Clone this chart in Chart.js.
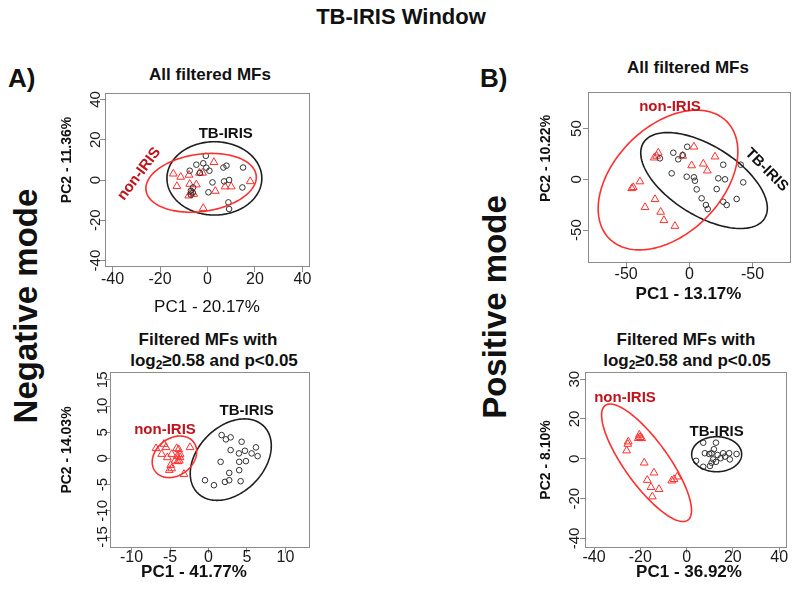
<!DOCTYPE html>
<html><head><meta charset="utf-8">
<script src="https://cdn.jsdelivr.net/npm/chart.js@4.4.1/dist/chart.umd.min.js"></script>
<style>
html,body{margin:0;padding:0;background:#fff;}
body{width:800px;height:594px;position:relative;overflow:hidden;font-family:'Liberation Sans',Arial,sans-serif;color:#111;}
.t{position:absolute;white-space:nowrap;font-weight:bold;line-height:1;}
.c{text-align:center;width:400px;}
.r{transform:translate(-50%,-50%) rotate(-90deg);}
canvas{position:absolute;}
sub{font-size:70%;vertical-align:-0.25em;line-height:0;}
</style></head><body>
<div class="t c" style="left:201px;top:6px;font-size:22px;">TB-IRIS Window</div>
<div class="t" style="left:8px;top:65px;font-size:26px;">A)</div>
<div class="t" style="left:480px;top:65px;font-size:26px;">B)</div>
<div class="t r" style="left:25px;top:306px;font-size:33px;">Negative mode</div>
<div class="t r" style="left:494px;top:307px;font-size:33px;">Positive mode</div>
<div class="t c" style="left:10px;top:66px;font-size:17px;">All filtered MFs</div>
<div class="t c" style="left:488px;top:59px;font-size:17px;">All filtered MFs</div>
<div class="t c" style="left:8px;top:331px;font-size:17px;">Filtered MFs with</div>
<div class="t c" style="left:14px;top:352px;font-size:17px;">log<sub>2</sub>≥0.58 and p&lt;0.05</div>
<div class="t c" style="left:486px;top:331px;font-size:17px;">Filtered MFs with</div>
<div class="t c" style="left:487px;top:352px;font-size:17px;">log<sub>2</sub>≥0.58 and p&lt;0.05</div>

<canvas id="negAll" width="290" height="236" style="left:40px;top:84px;"></canvas>
<canvas id="posAll" width="280" height="240" style="left:520px;top:80px;"></canvas>
<canvas id="negSig" width="290" height="232" style="left:40px;top:362px;"></canvas>
<canvas id="posSig" width="280" height="232" style="left:520px;top:362px;"></canvas>

<script>
// ================= DATA =================
// Negative mode, all filtered MFs (PC1 vs PC2)
const negAllTbX  = [-0.7,-4.7,-1.8,-0.5,0.8,-7.5,6.7,8.0,15.0,2.1,7.0,9.1,14.7,0.4,-6.1,-7.0,-6.2,-7.0,8.8,9.1,-3.2];
const negAllTbY  = [12.0,7.6,8.3,6.1,4.6,4.6,6.2,7.1,6.2,-1.2,-0.7,0.0,-3.7,-6.1,-3.7,-5.3,-6.3,-7.3,-11.1,-14.4,3.5];
const negAllNonX = [-14.4,-11.3,-7.8,-3.4,-2.1,2.7,-12.9,-7.5,-4.7,-7.0,-5.8,-7.9,-1.8,3.3,7.4,10.0,18.0];
const negAllNonY = [3.1,1.5,2.5,3.5,3.5,8.8,-3.1,-2.0,-2.3,-6.1,-7.0,-7.8,-14.0,-5.5,-3.3,-3.3,-0.7];
const negAllXTicks = [-40,-20,0,20,40];
const negAllXLabels = ['-40','-20','0','20','40'];
const negAllYTicks = [-40,-20,0,20,40];
const negAllYLabels = ['-40','-20','0','20','40'];
// ellipse: centre x, centre y, semi-axis 1 (dx, dy), semi-axis 2 (dx, dy)
const negAllTbEllipse  = [2.9,0.8, 20.0,0, 0,18.2];
const negAllNonEllipse = [-2.7,-1.4, 23.2,3.8, 1.7,-14.1];

// Positive mode, all filtered MFs
const posAllTbX  = [-1.7,-12.7,-5.3,-8.8,-23.3,-14.0,-2.1,3.6,4.4,26.8,40.6,22.9,28.2,42.6,5.8,21.6,37.4,9.7,13.1,14.5,26.8,29.5];
const posAllTbY  = [32.1,26.2,24.0,19.7,20.7,5.9,2.6,2.0,-1.4,14.4,14.4,1.0,0.0,-3.0,-9.9,-9.6,-19.4,-18.7,-25.3,-29.3,-22.1,-25.3];
const posAllNonX = [-24.6,-25.9,-27.8,-5.3,3.6,20.3,1.8,11.0,14.2,-39.1,-44.4,-45.6,-27.2,-35.1,-22.7,-20.1,-11.4];
const posAllNonY = [26.2,23.0,21.3,23.0,32.1,22.3,13.6,15.3,8.5,-2.2,-7.9,-8.9,-19.7,-27.6,-32.2,-40.4,-46.1];
const posAllXTicks = [-50,0,50];
const posAllXLabels = ['-50','0','-50'];
const posAllYTicks = [-50,0,50];
const posAllYLabels = ['-50','0','50'];
const posAllTbEllipse  = [11.6,-1.2, 47.9,-37.3, -14.6,-29.1];
const posAllNonEllipse = [-16.9,-0.7, 46.4,57.8, 30.0,-37.5];

// Negative mode, filtered MFs with log2>=0.58 and p<0.05
const negSigTbX  = [1.71,2.27,2.88,4.31,2.88,3.96,4.74,6.17,5.61,6.39,1.58,4.0,4.87,4.0,2.70,-0.45,0.71,2.14,2.70,4.18];
const negSigTbY  = [4.46,3.64,4.02,3.18,1.59,0.96,1.46,2.11,0.96,0.44,-0.65,-0.65,-0.52,-2.24,-2.76,-4.16,-5.11,-4.48,-4.16,-4.35];
const negSigNonX = [-6.82,-5.78,-5.52,-5.35,-6.08,-4.78,-4.13,-3.87,-3.70,-4.05,-3.70,-4.35,-4.0,-3.79,-4.91,-4.78,-5.09,-3.18,-2.40];
const negSigNonY = [1.92,2.74,2.11,0.19,0.82,0.82,1.92,1.72,0.82,0.44,0.19,-0.46,-0.57,-0.46,-1.28,-1.92,-2.24,-3.01,2.11];
const negSigXTicks = [-10,-5,0,5,10];
const negSigXLabels = ['-10','-5','0','5','10'];
const negSigYTicks = [-15,-10,-5,0,5,10,15];
const negSigYLabels = ['-15','-10','-5','0','5','10','15'];
const negSigTbEllipse  = [2.90,-0.23, 4.31,6.36, 3.03,-4.47];
const negSigNonEllipse = [-4.42,0.31, 2.50,2.78, 1.45,-2.83];

// Positive mode, filtered MFs with log2>=0.58 and p<0.05
const posSigTbX  = [7.2,12.7,11.8,7.9,9.8,10.8,13.4,15.8,18.4,21.6,11.5,12.7,14.7,10.8,18.7,10.1,7.2,4.1,16.6];
const posSigTbY  = [8.1,8.1,4.8,2.8,2.4,2.8,1.9,2.8,2.8,2.4,-0.3,-1.5,0.3,-2.0,-0.3,-3.6,-4.0,-1.0,1.1];
const posSigNonX = [-20.4,-20.1,-20.9,-19.4,-25.2,-25.4,-25.9,-18.3,-14.1,-17.0,-15.4,-11.9,-14.8,-6.4,-5.4,-4.0];
const posSigNonY = [12.0,10.8,10.3,10.3,8.6,7.4,4.1,-2.0,-7.0,-10.7,-14.3,-15.3,-19.0,-11.0,-10.3,-9.0];
const posSigXTicks = [-40,-20,0,20,40];
const posSigXLabels = ['-40','-20','0','20','40'];
const posSigYTicks = [-40,-20,0,20,40];
const posSigYLabels = ['-40','-20','0','20','30'];
const posSigTbEllipse  = [13.0,2.3, 10.8,0, 0,8.8];
const posSigNonEllipse = [-17.3,-2.0, 17.85,-28.8, -7.67,-6.44];

// ================= RENDERING =================
const FONT = "'Liberation Sans', Arial, sans-serif";
const TICK_LEN = 5;
const AXIS_GRAY = '#8c8c8c';
const TB_COLOR = '#333333';
const NON_COLOR = '#ff2f2f';
const NON_TEXT = '#c0141c';

function zip(xs, ys) { return xs.map((v, i) => ({x: v, y: ys[i]})); }
function textWidth(labels, size) {
  const c = document.createElement('canvas').getContext('2d');
  c.font = 'normal ' + size + 'px ' + FONT;
  return Math.max(...labels.map(l => c.measureText(l).width));
}

const boxPlugin = {
  id: 'rbox',
  afterDraw(chart) {
    const {ctx, chartArea: a} = chart;
    ctx.save();
    ctx.strokeStyle = AXIS_GRAY; ctx.lineWidth = 1;
    ctx.strokeRect(Math.round(a.left) + 0.5, Math.round(a.top) + 0.5,
                   Math.round(a.right - a.left) - 1, Math.round(a.bottom - a.top) - 1);
    ctx.restore();
  }
};

// axis titles placed relative to the plot area (R-style outer margins)
const axisTitlePlugin = {
  id: 'axisTitles',
  afterDraw(chart, args, o) {
    const {ctx, chartArea: a} = chart;
    ctx.save();
    ctx.fillStyle = '#111'; ctx.textAlign = 'center'; ctx.textBaseline = 'middle';
    ctx.font = (o.xWeight || 'bold') + ' 17px ' + FONT;
    ctx.fillText(o.x, (a.left + a.right) / 2 + o.xdx, a.bottom + o.xdy);
    ctx.translate(a.left - o.ydx, (a.top + a.bottom) / 2 + o.ydy);
    ctx.rotate(-Math.PI / 2);
    ctx.font = 'bold 14px ' + FONT;
    ctx.fillText(o.y, 0, 0);
    ctx.restore();
  }
};

const ellipsePlugin = {
  id: 'ellipses',
  afterDatasetsDraw(chart, args, opts) {
    const {ctx, chartArea: a} = chart;
    const xs = chart.scales.x, ys = chart.scales.y;
    ctx.save();
    ctx.beginPath(); ctx.rect(a.left, a.top, a.right - a.left, a.bottom - a.top); ctx.clip();
    (opts.items || []).forEach(e => {
      const [cx, cy, ux, uy, vx, vy] = e.p;
      ctx.beginPath();
      for (let i = 0; i <= 200; i++) {
        const t = i / 200 * 2 * Math.PI;
        const px = xs.getPixelForValue(cx + Math.cos(t) * ux + Math.sin(t) * vx);
        const py = ys.getPixelForValue(cy + Math.cos(t) * uy + Math.sin(t) * vy);
        if (i === 0) ctx.moveTo(px, py); else ctx.lineTo(px, py);
      }
      ctx.closePath();
      ctx.strokeStyle = e.color; ctx.lineWidth = 1.6; ctx.stroke();
    });
    ctx.restore();
  }
};

const groupLabelPlugin = {
  id: 'groupLabels',
  afterDatasetsDraw(chart, args, opts) {
    const {ctx} = chart;
    const xs = chart.scales.x, ys = chart.scales.y;
    (opts.items || []).forEach(l => {
      ctx.save();
      ctx.translate(xs.getPixelForValue(l.x), ys.getPixelForValue(l.y));
      ctx.rotate((l.rot || 0) * Math.PI / 180);
      ctx.font = 'bold 15px ' + FONT;
      ctx.fillStyle = l.color; ctx.textAlign = 'center'; ctx.textBaseline = 'middle';
      ctx.fillText(l.text, 0, 0);
      ctx.restore();
    });
  }
};

function makeChart(id, c) {
  const yTickSize = 15, xTickSize = 16;
  const widest = textWidth(c.yLabels, yTickSize);
  new Chart(document.getElementById(id), {
    type: 'scatter',
    data: {
      datasets: [
        {label: 'TB-IRIS', data: zip(c.tbX, c.tbY), pointStyle: 'circle', pointRadius: 2.8,
         borderColor: TB_COLOR, backgroundColor: 'rgba(0,0,0,0)', borderWidth: 1},
        {label: 'non-IRIS', data: zip(c.nonX, c.nonY), pointStyle: 'triangle', pointRadius: 4.5,
         borderColor: NON_COLOR, backgroundColor: 'rgba(0,0,0,0)', borderWidth: 1}
      ]
    },
    options: {
      responsive: false, animation: false, events: [], devicePixelRatio: 1,
      layout: {padding: {left: 0, top: c.padTop, right: c.padRight, bottom: 0}},
      plugins: {
        legend: {display: false}, tooltip: {enabled: false},
        ellipses: {items: [{p: c.tbEll, color: '#1e1e1e'}, {p: c.nonEll, color: NON_COLOR}]},
        groupLabels: {items: c.labels},
        axisTitles: c.titles
      },
      scales: {
        x: {
          type: 'linear', min: c.xMin, max: c.xMax,
          afterBuildTicks: s => { s.ticks = c.xTicks.map(v => ({value: v})); },
          afterFit: s => { s.height = c.xAxisH; },
          ticks: {callback: (v, i) => c.xLabels[i], font: {family: FONT, size: xTickSize, lineHeight: 1},
                  color: '#1a1a1a', padding: c.xTickPad, maxRotation: 0, minRotation: 0, autoSkip: false},
          grid: {display: true, drawOnChartArea: false, drawTicks: true, tickLength: TICK_LEN, color: AXIS_GRAY},
          border: {display: false},
          title: {display: false, text: c.titles.x}
        },
        y: {
          type: 'linear', min: c.yMin, max: c.yMax,
          afterBuildTicks: s => { s.ticks = c.yTicks.map(v => ({value: v})); },
          afterFit: s => { s.width = c.yAxisW; },
          ticks: {callback: (v, i) => c.yLabels[i], font: {family: FONT, size: yTickSize, lineHeight: 1},
                  color: '#1a1a1a', minRotation: 90, maxRotation: 90, crossAlign: 'center',
                  padding: c.yDist - TICK_LEN - widest / 2, autoSkip: false},
          grid: {display: true, drawOnChartArea: false, drawTicks: true, tickLength: TICK_LEN, color: AXIS_GRAY},
          border: {display: false},
          title: {display: false, text: c.titles.y}
        }
      }
    },
    plugins: [boxPlugin, ellipsePlugin, groupLabelPlugin, axisTitlePlugin]
  });
}

makeChart('negAll', {
  tbX: negAllTbX, tbY: negAllTbY, nonX: negAllNonX, nonY: negAllNonY,
  xTicks: negAllXTicks, xLabels: negAllXLabels, yTicks: negAllYTicks, yLabels: negAllYLabels,
  tbEll: negAllTbEllipse, nonEll: negAllNonEllipse,
  xMin: -43.2, xMax: 43.2, yMin: -43.2, yMax: 43.2,
  padTop: 9, padRight: 20, yAxisW: 65, xAxisH: 53,
  xTickPad: 0, yDist: 9,
  titles: {x: 'PC1 - 20.17%', xWeight: 'normal', xdx: -0.5, xdy: 40, y: 'PC2 - 11.36%', ydx: 38, ydy: -20},
  labels: [{text: 'TB-IRIS', x: 7.7, y: 22.9, color: '#111'},
           {text: 'non-IRIS', x: -28.8, y: 3.0, rot: -53, color: NON_TEXT}]
});

makeChart('posAll', {
  tbX: posAllTbX, tbY: posAllTbY, nonX: posAllNonX, nonY: posAllNonY,
  xTicks: posAllXTicks, xLabels: posAllXLabels, yTicks: posAllYTicks, yLabels: posAllYLabels,
  tbEll: posAllTbEllipse, nonEll: posAllNonEllipse,
  xMin: -80.2, xMax: 80.4, yMin: -82.5, yMax: 86.1,
  padTop: 12, padRight: 9, yAxisW: 68, xAxisH: 57,
  xTickPad: -1, yDist: 11,
  titles: {x: 'PC1 - 13.17%', xWeight: 'bold', xdx: -1, xdy: 31, y: 'PC2 - 10.22%', ydx: 42, ydy: -19},
  labels: [{text: 'non-IRIS', x: -15.3, y: 71.6, color: NON_TEXT},
           {text: 'TB-IRIS', x: 61.1, y: 9.2, rot: 45, color: '#111'}]
});

makeChart('negSig', {
  tbX: negSigTbX, tbY: negSigTbY, nonX: negSigNonX, nonY: negSigNonY,
  xTicks: negSigXTicks, xLabels: negSigXLabels, yTicks: negSigYTicks, yLabels: negSigYLabels,
  tbEll: negSigTbEllipse, nonEll: negSigNonEllipse,
  xMin: -12.8, xMax: 13.2, yMin: -17.1, yMax: 16.5,
  padTop: 10, padRight: 20, yAxisW: 70, xAxisH: 46,
  xTickPad: -3, yDist: 7.5,
  titles: {x: 'PC1 - 41.77%', xWeight: 'bold', xdx: -16, xdy: 24, y: 'PC2 - 14.03%', ydx: 43, ydy: -10},
  labels: [{text: 'non-IRIS', x: -5.65, y: 5.42, color: NON_TEXT},
           {text: 'TB-IRIS', x: 4.96, y: 9.06, color: '#111'}]
});

makeChart('posSig', {
  tbX: posSigTbX, tbY: posSigTbY, nonX: posSigNonX, nonY: posSigNonY,
  xTicks: posSigXTicks, xLabels: posSigXLabels, yTicks: posSigYTicks, yLabels: posSigYLabels,
  tbEll: posSigTbEllipse, nonEll: posSigNonEllipse,
  xMin: -43.9, xMax: 43.4, yMin: -44.8, yMax: 43.6,
  padTop: 10, padRight: 13, yAxisW: 65, xAxisH: 46,
  xTickPad: -3, yDist: 10.3,
  titles: {x: 'PC1 - 36.92%', xWeight: 'bold', xdx: 3, xdy: 24, y: 'PC2 - 8.10%', ydx: 39, ydy: 0},
  labels: [{text: 'non-IRIS', x: -26.6, y: 30.4, color: NON_TEXT},
           {text: 'TB-IRIS', x: 13.0, y: 13.6, color: '#111'}]
});
</script>
</body></html>
